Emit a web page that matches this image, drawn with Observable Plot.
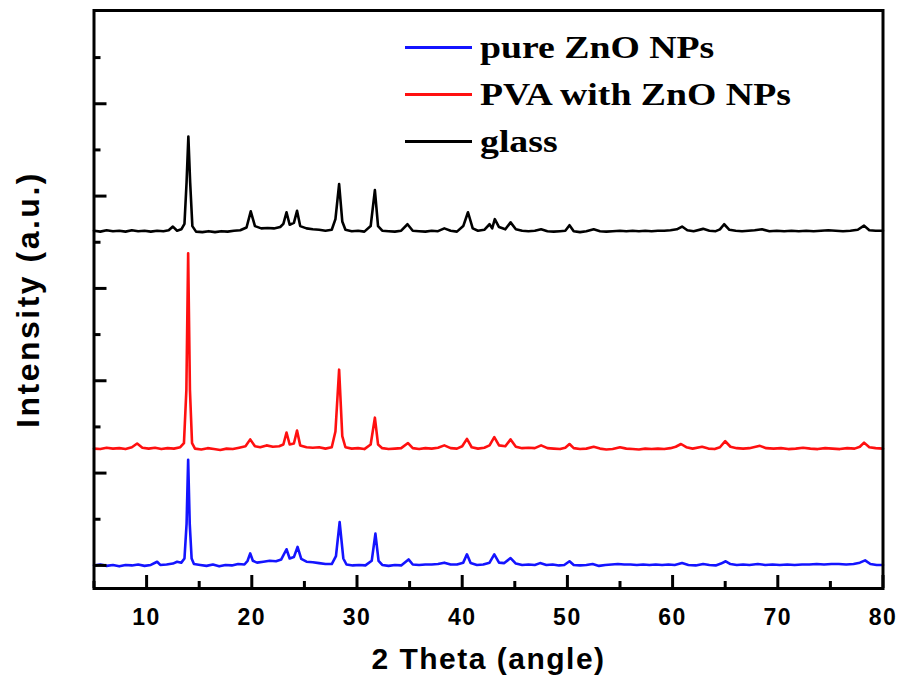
<!DOCTYPE html>
<html>
<head>
<meta charset="utf-8">
<script src="https://cdn.jsdelivr.net/npm/d3@7"></script>
<script src="https://cdn.jsdelivr.net/npm/@observablehq/plot@0.6"></script>
<style>
  body { margin: 0; background: #fff; }
  #wrap { position: relative; width: 903px; height: 690px; background: #fff; }
  #legend { position: absolute; left: 405px; top: 24px; }
  .row { display: flex; align-items: center; height: 47px; }
  .swatch { width: 67px; height: 3px; }
  .lab { margin-left: 8px; font-family: "Liberation Serif", "Times New Roman", serif; font-weight: bold;
         font-size: 32px; transform: scaleX(1.18); transform-origin: left center; white-space: nowrap; color: #000; }
</style>
</head>
<body>
<div id="wrap">
  <div id="chart"></div>
  <div id="legend"></div>
</div>
<script>
// ---- Data (2θ in degrees, intensity in arbitrary units) ----
const seriesNames = ["pure ZnO NPs", "PVA with ZnO NPs", "glass"];
const seriesColors = ["#1414ff", "#ff1010", "#000000"];

const pureZnO = [
[5.0,0.00],[5.6,0.02],[6.2,-0.01],[6.8,0.01],[7.4,-0.02],[8.0,0.01],[8.6,0.00],[9.2,0.02],[9.8,-0.01],[10.4,0.01],
[11.0,0.08],[11.3,0.01],[11.9,0.02],[12.5,0.04],[12.9,0.08],[13.3,0.06],[13.6,0.15],[13.8,0.9],[13.95,2.29],[14.1,0.9],
[14.28,0.15],[14.5,0.03],[15.1,0.01],[15.7,-0.01],[16.3,0.02],[16.9,-0.02],[17.5,0.01],[18.1,0.00],[18.7,0.03],[19.3,0.02],
[19.6,0.10],[19.85,0.26],[20.1,0.10],[20.5,0.06],[21.1,0.08],[21.7,0.10],[22.3,0.09],[22.8,0.13],[23.3,0.35],[23.6,0.15],
[24.0,0.18],[24.35,0.40],[24.7,0.14],[25.2,0.08],[25.8,0.07],[26.4,0.05],[27.0,0.03],[27.6,0.03],[28.0,0.20],[28.35,0.94],
[28.7,0.15],[29.0,0.02],[29.6,0.00],[30.2,0.01],[30.8,0.00],[31.4,0.10],[31.75,0.69],[32.05,0.10],[32.4,0.01],[33.0,-0.01],
[33.6,0.01],[34.2,0.00],[34.9,0.13],[35.3,0.02],[35.9,0.01],[36.5,0.02],[37.1,0.02],[37.7,0.03],[38.3,0.06],[38.9,0.02],
[39.5,0.02],[40.1,0.06],[40.45,0.24],[40.8,0.05],[41.4,0.01],[42.0,0.02],[42.6,0.06],[43.05,0.24],[43.5,0.06],[44.0,0.05],
[44.6,0.16],[45.1,0.04],[45.7,0.01],[46.3,0.02],[46.9,0.01],[47.4,0.05],[48.0,0.01],[48.6,0.02],[49.2,0.00],[49.7,0.01],
[50.2,0.09],[50.6,0.01],[51.2,0.00],[51.8,0.01],[52.4,0.03],[53.0,-0.01],[53.6,0.01],[54.2,0.02],[54.8,0.03],[55.4,0.02],
[56.0,0.02],[56.6,0.01],[57.2,0.02],[57.8,0.01],[58.4,0.02],[59.0,0.01],[59.6,0.02],[60.2,0.01],[60.9,0.05],[61.5,0.01],
[62.2,0.00],[62.9,0.03],[63.5,0.01],[64.1,0.00],[64.6,0.04],[65.05,0.09],[65.5,0.03],[66.1,0.01],[66.7,0.02],[67.3,0.01],
[68.1,0.03],[68.8,0.01],[69.5,0.02],[70.2,0.01],[70.9,0.02],[71.6,0.01],[72.3,0.02],[73.0,0.02],[73.7,0.03],[74.4,0.02],
[75.1,0.03],[75.8,0.03],[76.5,0.02],[77.2,0.03],[77.8,0.06],[78.3,0.11],[78.8,0.03],[79.4,0.01],[80.0,0.01]
];

const pvaZnO = [
[5.0,2.53],[5.6,2.52],[6.2,2.55],[6.8,2.53],[7.4,2.54],[8.0,2.52],[8.6,2.56],[9.1,2.64],[9.6,2.55],[10.2,2.53],
[10.8,2.55],[11.4,2.52],[12.0,2.54],[12.6,2.53],[13.2,2.56],[13.55,2.65],[13.78,3.8],[13.95,6.76],[14.12,3.8],[14.32,2.65],
[14.6,2.53],[15.2,2.51],[15.8,2.54],[16.4,2.52],[17.0,2.50],[17.6,2.53],[18.2,2.52],[18.8,2.55],[19.4,2.58],[19.85,2.73],
[20.3,2.58],[20.8,2.56],[21.4,2.60],[22.0,2.57],[22.6,2.58],[23.0,2.62],[23.3,2.88],[23.6,2.62],[24.0,2.64],[24.3,2.92],
[24.6,2.60],[25.2,2.56],[25.8,2.55],[26.4,2.56],[27.0,2.53],[27.6,2.56],[27.95,2.9],[28.3,4.24],[28.6,2.8],[28.9,2.56],
[29.5,2.53],[30.1,2.54],[30.7,2.52],[31.3,2.62],[31.7,3.20],[32.0,2.62],[32.4,2.54],[33.0,2.52],[33.6,2.53],[34.2,2.54],
[34.85,2.65],[35.3,2.54],[35.9,2.52],[36.5,2.54],[37.1,2.53],[37.7,2.55],[38.3,2.60],[38.9,2.54],[39.5,2.53],[40.0,2.58],
[40.45,2.74],[40.9,2.56],[41.5,2.53],[42.1,2.55],[42.6,2.60],[43.05,2.78],[43.5,2.60],[44.1,2.58],[44.6,2.73],[45.1,2.57],
[45.7,2.54],[46.3,2.55],[46.9,2.54],[47.5,2.60],[48.1,2.54],[48.7,2.53],[49.3,2.52],[49.8,2.55],[50.2,2.63],[50.6,2.54],
[51.2,2.52],[51.8,2.53],[52.5,2.57],[53.1,2.53],[53.7,2.51],[54.3,2.52],[55.0,2.56],[55.6,2.53],[56.2,2.52],[56.8,2.51],
[57.4,2.53],[58.0,2.52],[58.6,2.53],[59.2,2.52],[59.8,2.54],[60.3,2.57],[60.8,2.63],[61.3,2.56],[61.9,2.53],[62.8,2.57],
[63.4,2.53],[64.0,2.52],[64.5,2.56],[65.0,2.69],[65.5,2.57],[66.1,2.54],[66.7,2.53],[67.3,2.54],[68.3,2.59],[68.9,2.54],
[69.6,2.53],[70.3,2.54],[71.0,2.52],[71.7,2.53],[72.4,2.55],[73.1,2.53],[73.8,2.52],[74.5,2.54],[75.2,2.53],[75.9,2.52],
[76.6,2.54],[77.3,2.53],[77.8,2.57],[78.2,2.66],[78.7,2.56],[79.3,2.54],[80.0,2.53]
];

const glass = [
[5.0,7.25],[5.6,7.23],[6.2,7.26],[6.8,7.24],[7.4,7.25],[8.0,7.23],[8.6,7.26],[9.2,7.24],[9.8,7.25],[10.4,7.23],
[11.0,7.25],[11.6,7.24],[12.1,7.26],[12.5,7.34],[12.9,7.25],[13.3,7.28],[13.6,7.40],[13.8,8.3],[13.97,9.29],[14.14,8.3],
[14.35,7.35],[14.7,7.23],[15.3,7.22],[15.9,7.24],[16.5,7.22],[17.1,7.24],[17.7,7.23],[18.3,7.25],[18.9,7.26],[19.5,7.32],
[19.9,7.67],[20.3,7.35],[20.9,7.30],[21.5,7.31],[22.1,7.30],[22.7,7.33],[23.0,7.40],[23.3,7.65],[23.6,7.38],[24.0,7.42],
[24.3,7.68],[24.6,7.35],[25.2,7.30],[25.8,7.28],[26.4,7.27],[27.0,7.25],[27.6,7.27],[27.95,7.5],[28.3,8.26],[28.6,7.45],
[28.9,7.27],[29.5,7.24],[30.1,7.25],[30.7,7.23],[31.3,7.35],[31.7,8.13],[32.0,7.35],[32.4,7.25],[33.0,7.24],[33.6,7.23],
[34.2,7.25],[34.8,7.39],[35.3,7.25],[35.9,7.24],[36.5,7.23],[37.1,7.25],[37.7,7.24],[38.3,7.30],[38.9,7.25],[39.5,7.23],
[40.1,7.35],[40.55,7.65],[41.0,7.30],[41.5,7.25],[42.1,7.27],[42.6,7.39],[42.85,7.30],[43.1,7.50],[43.5,7.33],[44.1,7.28],
[44.6,7.43],[45.1,7.28],[45.7,7.25],[46.3,7.24],[46.9,7.25],[47.5,7.28],[48.1,7.24],[48.7,7.23],[49.3,7.24],[49.8,7.25],
[50.2,7.37],[50.6,7.24],[51.2,7.22],[51.8,7.24],[52.5,7.28],[53.1,7.24],[53.7,7.23],[54.3,7.24],[55.0,7.25],[55.6,7.24],
[56.2,7.25],[56.8,7.24],[57.4,7.25],[58.0,7.24],[58.6,7.25],[59.2,7.25],[59.8,7.26],[60.4,7.28],[60.9,7.34],[61.4,7.26],
[62.0,7.24],[62.9,7.29],[63.5,7.25],[64.1,7.24],[64.5,7.28],[64.9,7.39],[65.4,7.27],[66.0,7.25],[66.6,7.24],[67.2,7.25],
[67.8,7.26],[68.5,7.28],[69.2,7.24],[69.9,7.25],[70.6,7.24],[71.3,7.25],[72.0,7.24],[72.7,7.25],[73.4,7.24],[74.1,7.25],
[74.8,7.26],[75.5,7.25],[76.2,7.24],[76.9,7.25],[77.6,7.27],[78.2,7.36],[78.7,7.26],[79.3,7.25],[80.0,7.25]
];

const xMajorTicks = [10, 20, 30, 40, 50, 60, 70, 80];
const xMinorTicks = [5, 15, 25, 35, 45, 55, 65, 75];
const yMajorTicks = [0, 2, 4, 6, 8, 10];
const yMinorTicks = [1, 3, 5, 7, 9, 11];
const xLabel = "2 Theta (angle)";
const yLabel = "Intensity (a.u.)";

const allSeries = [pureZnO, pvaZnO, glass];
const rows = allSeries.flatMap((s, i) => s.map(([t, v]) => ({theta: t, v, series: seriesNames[i]})));

// frame height in px = 690 - 10 - 102 = 578; tick lengths expressed as insets
const chart = Plot.plot({
  width: 903,
  height: 690,
  marginLeft: 93.5,
  marginRight: 20.5,
  marginTop: 10,
  marginBottom: 102,
  style: {background: "white", fontFamily: "'Liberation Sans', Arial, sans-serif", color: "black"},
  x: {domain: [5, 80]},
  y: {domain: [-0.5, 12.02]},
  color: {domain: seriesNames, range: seriesColors},
  marks: [
    Plot.line(rows, {x: "theta", y: "v", z: "series", stroke: "series", strokeWidth: 2.6, strokeLinejoin: "round"}),
    Plot.ruleX(xMajorTicks, {x: d => d, stroke: "black", strokeWidth: 3, insetTop: 565}),
    Plot.ruleX(xMinorTicks, {x: d => d, stroke: "black", strokeWidth: 3, insetTop: 571}),
    Plot.axisX({ticks: xMajorTicks, tickSize: 0, tickPadding: 20, fontSize: 23, fontWeight: "bold", label: null}),
    Plot.axisY({ticks: yMajorTicks, tickSize: -13, strokeWidth: 3, fill: "none", label: null}),
    Plot.axisY({ticks: yMinorTicks, tickSize: -7, strokeWidth: 3, fill: "none", label: null}),
    Plot.frame({stroke: "black", strokeWidth: 3}),
    Plot.text([xLabel], {frameAnchor: "bottom", dy: 80, fontSize: 30, fontWeight: "bold", className: "xlab"}),
    Plot.text([yLabel], {frameAnchor: "left", textAnchor: "middle", dx: -65, rotate: -90, fontSize: 32, fontWeight: "bold", className: "ylab"})
  ]
});
document.getElementById("chart").appendChild(chart);
d3.select(chart).selectAll(".xlab text").style("letter-spacing", "1.5px");
d3.select(chart).selectAll(".ylab text").style("letter-spacing", "2.5px");
d3.select(chart).selectAll("g[aria-label='x-axis tick label'] text").style("letter-spacing", "1.5px");

const legend = document.getElementById("legend");
seriesNames.forEach((name, i) => {
  const row = document.createElement("div");
  row.className = "row";
  const sw = document.createElement("div");
  sw.className = "swatch";
  sw.style.background = seriesColors[i];
  const lab = document.createElement("div");
  lab.className = "lab";
  lab.textContent = name;
  row.appendChild(sw);
  row.appendChild(lab);
  legend.appendChild(row);
});
</script>
</body>
</html>
